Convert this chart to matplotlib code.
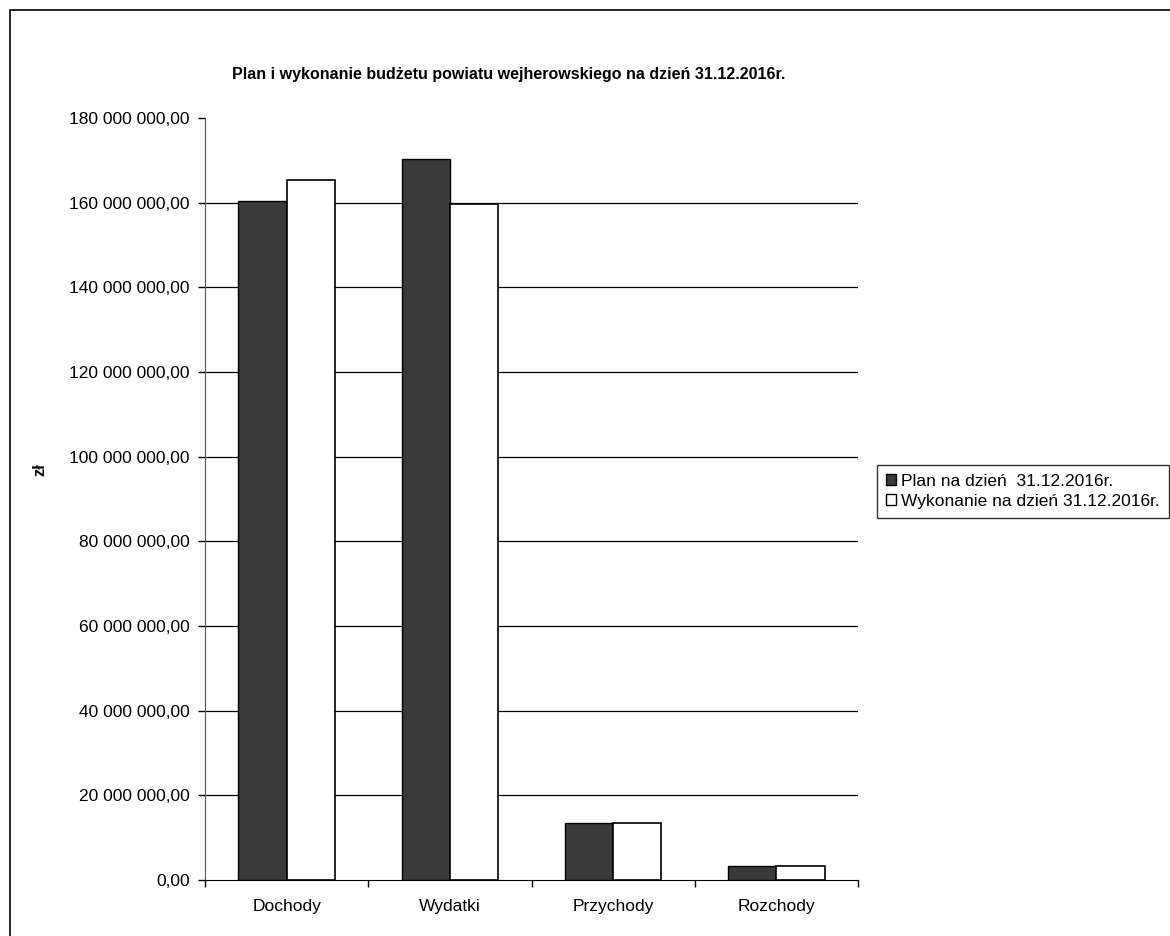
import matplotlib
matplotlib.use("Agg")
import matplotlib.pyplot as plt
from matplotlib.ticker import FuncFormatter, FixedLocator, NullFormatter
import matplotlib.patches as mpatches
import numpy as np

categories = ["Dochody", "Wydatki", "Przychody", "Rozchody"]
plan = [160_400_000, 170_400_000, 13_400_000, 3_300_000]
wykonanie = [165_300_000, 159_800_000, 13_400_000, 3_300_000]
series_labels = ["Plan na dzień  31.12.2016r.", "Wykonanie na dzień 31.12.2016r."]
title = "Plan i wykonanie budżetu powiatu wejherowskiego na dzień 31.12.2016r."
ylabel = "zł"

plt.rcParams['font.family'] = ['Liberation Sans', 'DejaVu Sans']

fig = plt.figure(figsize=(11.7, 9.36), dpi=100)
W, H = 1170, 936

# outer frame
fig.patches.append(mpatches.Rectangle((10 / W, -0.1), 1.2, (H - 10) / H + 0.1,
                                      transform=fig.transFigure, fill=False,
                                      edgecolor='black', linewidth=1.2))

ax = fig.add_axes([205 / W, 56 / H, 653 / W, 762 / H])
x = np.arange(len(categories))
bw = 0.295
ax.bar(x - bw / 2, plan, width=bw, color='#3a3a3a', edgecolor='black',
       linewidth=1, label=series_labels[0], zorder=3)
ax.bar(x + bw / 2, wykonanie, width=bw, color='white', edgecolor='black',
       linewidth=1.2, label=series_labels[1], zorder=3)

ax.set_xlim(-0.5, len(categories) - 0.5)
ax.set_ylim(0, 180_000_000)

ax.yaxis.set_major_locator(FixedLocator(np.arange(0, 180_000_001, 20_000_000)))

def fmt(v, pos):
    s = f"{int(round(v)):,}".replace(",", " ")
    return s + ",00"
ax.yaxis.set_major_formatter(FuncFormatter(fmt))

for yv in np.arange(20_000_000, 170_000_000, 20_000_000):
    ax.axhline(yv, color='black', linewidth=0.9, zorder=1)

ax.xaxis.set_major_locator(FixedLocator(np.arange(-0.5, len(categories), 1.0)))
ax.xaxis.set_major_formatter(NullFormatter())
ax.xaxis.set_minor_locator(FixedLocator(x))
ax.set_xticklabels(categories, minor=True)
ax.tick_params(axis='x', which='minor', length=0, pad=14, labelsize=12.5)
ax.tick_params(axis='x', which='major', length=5, direction='out', width=1)
ax.tick_params(axis='y', length=5, direction='out', width=1, labelsize=12.5, pad=6)

for s in ['top', 'right']:
    ax.spines[s].set_visible(False)
ax.spines['left'].set_color('#555555')
ax.spines['bottom'].set_color('black')

fig.text(509 / W, 1 - 75 / H, title, ha='center', va='center',
         fontsize=11.5, fontweight='bold')
fig.text(40 / W, 1 - 470 / H, ylabel, ha='center', va='center',
         rotation=90, fontsize=12, fontweight='bold')

handles = [mpatches.Patch(facecolor='#3a3a3a', edgecolor='black', label=series_labels[0]),
           mpatches.Patch(facecolor='white', edgecolor='black', label=series_labels[1])]
leg = fig.legend(handles=handles, loc='upper left',
                 bbox_to_anchor=(877 / W, 1 - 465 / H), bbox_transform=fig.transFigure,
                 frameon=True, fancybox=False, edgecolor='black', fontsize=12.5,
                 handlelength=0.6, handleheight=0.6, handletextpad=0.3,
                 borderpad=0.5, labelspacing=0.3, borderaxespad=0)
leg.get_frame().set_linewidth(1)

fig.savefig("out.png", dpi=100, facecolor='white')
